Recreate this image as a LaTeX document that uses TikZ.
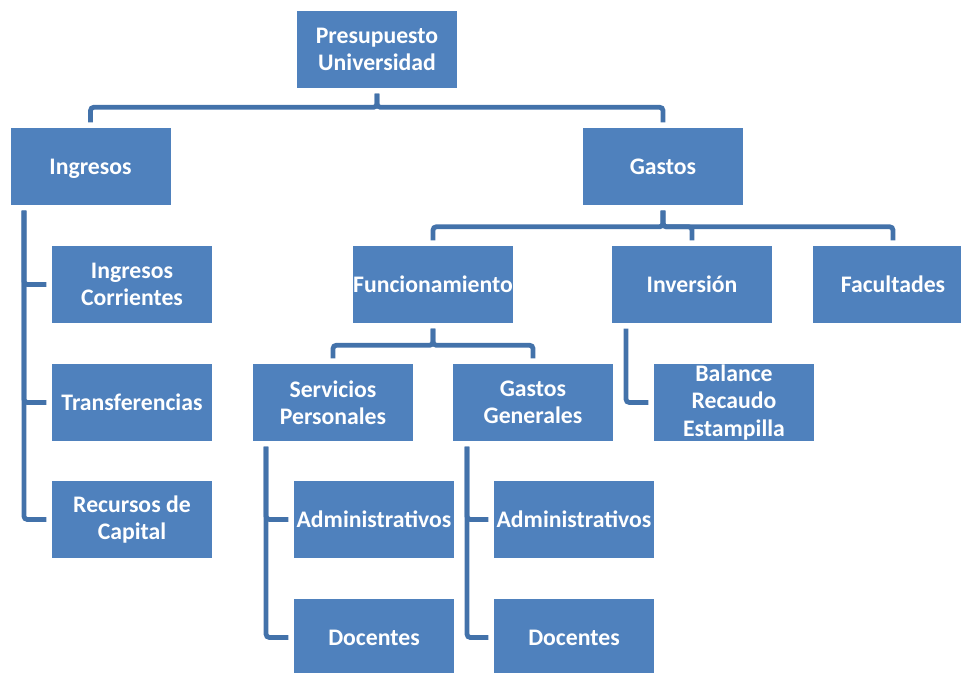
\documentclass[tikz,border=0pt]{standalone}
\usepackage{fontspec}
\setmainfont{Carlito}
\definecolor{boxblue}{HTML}{4F81BD}
\definecolor{lineblue}{HTML}{4372AA}
\tikzset{
  unit/.style={rectangle,fill=boxblue,text=white,inner sep=0pt,
    minimum width=120pt,minimum height=57.75pt,align=center,
    font=\fontsize{17.8}{20.3}\selectfont\bfseries},
  conn/.style={draw=lineblue,line width=3.6pt,rounded corners=2.5pt,
    shorten <=4pt,shorten >=4pt}
}
\begin{document}
\begin{tikzpicture}[x=0.75pt,y=-0.75pt]
\useasboundingbox (0,0) rectangle (961,673);

% Top level
\node[unit] (pres) at (377,49.5) {Presupuesto\\Universidad};
\node[unit] (ingr) at (90.5,166.5) {\raisebox{0pt}[\height][0pt]{Ingresos}};
\node[unit] (gast) at (663,166.5) {Gastos};

% Ingresos branch
\node[unit] (icor) at (132,284.5) {Ingresos\\Corrientes};
\node[unit] (itra) at (132,402.5) {Transferencias};
\node[unit] (irec) at (132,519.5) {Recursos de\\Capital};

% Gastos branch
\node[unit] (func) at (433,284.5) {Funcionamiento};
\node[unit] (inve) at (692,284.5) {Inversión};
\node[unit] (facu) at (893,284.5) {Facultades};
\node[unit] (bala) at (734,402.5) {Balance\\Recaudo\\Estampilla};

% Funcionamiento branch
\node[unit] (serv) at (333,402.5) {Servicios\\Personales};
\node[unit] (ggen) at (533,402.5) {Gastos\\Generales};
\node[unit] (sadm) at (374,519.5) {Administrativos};
\node[unit] (sdoc) at (374,637.5) {Docentes};
\node[unit] (gadm) at (574,519.5) {Administrativos};
\node[unit] (gdoc) at (574,637.5) {Docentes};

% Forks
\draw[conn] (pres.south) -- ++(0,19) -| (ingr.north);
\draw[conn] (pres.south) -- ++(0,19) -| (gast.north);
\draw[conn] (gast.south) -- ++(0,21.5) -| (func.north);
\draw[conn] (gast.south) -- ++(0,21.5) -| (inve.north);
\draw[conn] (gast.south) -- ++(0,21.5) -| (facu.north);
\draw[conn] (func.south) -- ++(0,22) -| (serv.north);
\draw[conn] (func.south) -- ++(0,22) -| (ggen.north);

% Side lists
\draw[conn] ([xshift=-49.9pt]ingr.south) |- (icor.west);
\draw[conn] ([xshift=-49.9pt]ingr.south) |- (itra.west);
\draw[conn] ([xshift=-49.9pt]ingr.south) |- (irec.west);
\draw[conn] ([xshift=-49.5pt]inve.south) |- (bala.west);
\draw[conn] ([xshift=-50.2pt]serv.south) |- (sadm.west);
\draw[conn] ([xshift=-50.2pt]serv.south) |- (sdoc.west);
\draw[conn] ([xshift=-49.5pt]ggen.south) |- (gadm.west);
\draw[conn] ([xshift=-49.5pt]ggen.south) |- (gdoc.west);

\end{tikzpicture}
\end{document}
